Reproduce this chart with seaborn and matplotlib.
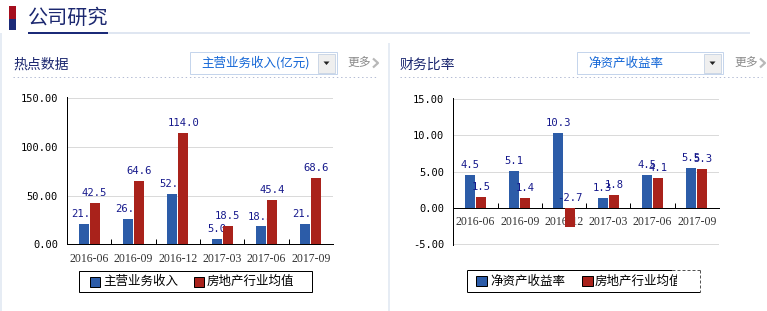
import matplotlib
matplotlib.use("Agg")
import matplotlib.pyplot as plt
import seaborn as sns
import pandas as pd
from matplotlib.patches import Rectangle, Polygon
from matplotlib.lines import Line2D

# ---------------- data ----------------
periods = ['2016-06', '2016-09', '2016-12', '2017-03', '2017-06', '2017-09']
revenue_company = [21.1, 26.2, 52.1, 5.0, 18.3, 21.2]
revenue_industry = [42.5, 64.6, 114.0, 18.5, 45.4, 68.6]
roe_company = [4.5, 5.1, 10.3, 1.3, 4.5, 5.5]
roe_industry = [1.5, 1.4, -2.7, 1.8, 4.1, 5.3]
left_series = ['主营业务收入', '房地产行业均值']
right_series = ['净资产收益率', '房地产行业均值']
left_yticks = [0, 50, 100, 150]
right_yticks = [-5, 0, 5, 10, 15]
page_title = '公司研究'
left_title = '热点数据'
right_title = '财务比率'
left_select = '主营业务收入(亿元)'
right_select = '净资产收益率'
more_text = '更多'

# ---------------- style ----------------
sns.set_theme(style='white')
plt.rcParams['font.family'] = ['Noto Sans CJK SC', 'DejaVu Sans']
plt.rcParams['axes.unicode_minus'] = False

BLUE = '#2c5ca8'
RED = '#a9221b'
LABEL = '#16198c'
NAVY = '#1c2870'
LIGHT = '#dfe6f1'
PX = 72 / 100.0  # points per pixel

W, H = 767, 311
fig = plt.figure(figsize=(W / 100, H / 100), dpi=100)
fig.patch.set_facecolor('white')


def ax_at(x0, x1, ytop, ybot):
    return fig.add_axes([x0 / W, 1 - ybot / H, (x1 - x0) / W, (ybot - ytop) / H], zorder=2)


# overlay for page decorations (pixel coordinates)
ov = fig.add_axes([0, 0, 1, 1], zorder=0)
ov.set_xlim(0, W)
ov.set_ylim(H, 0)
ov.axis('off')


def rect(x0, y0, x1, y1, fc, ec='none', lw=0, z=1, ls='-'):
    ov.add_patch(Rectangle((x0, y0), x1 - x0, y1 - y0, facecolor=fc, edgecolor=ec,
                           linewidth=lw, zorder=z, linestyle=ls))


def line(xs, ys, color, lw=1, ls='-', z=1):
    ov.add_line(Line2D(xs, ys, color=color, linewidth=lw * PX, linestyle=ls, zorder=z,
                       solid_capstyle='butt'))


# page header
rect(9, 6, 15.5, 18.5, '#a50e1e')
rect(9, 18.5, 15.5, 29.5, '#1b2a78')
ov.text(27.5, 18, page_title, fontsize=14.5, color=NAVY, va='center', ha='left')
rect(108, 32, 750, 33.8, LIGHT)
rect(28, 32, 108, 33.8, '#1b2a78')
line([1, 1], [33, 311], LIGHT, lw=1.5)
line([389.3, 389.3], [43, 311], LIGHT, lw=1.5)


def panel_header(tx, title, dot_x1, box_x0, box_x1, box_text, more_x):
    ov.text(tx, 65, title, fontsize=10, color=NAVY, va='center', ha='left')
    line([tx, dot_x1], [77.3, 77.3], '#b4bcd4', lw=1, ls=(0, (1.4, 2.8)))
    rect(box_x0, 51.5, box_x1, 74, 'white', ec='#c5d5ec', lw=1 * PX)
    ov.text(box_x0 + 11, 63, box_text, fontsize=9, color='#1366d6', va='center', ha='left')
    bx0 = box_x1 - 19
    rect(bx0, 53.5, box_x1 - 2, 72.5, '#efefef', ec='#ccd7e6', lw=1 * PX)
    cx = (bx0 + box_x1 - 2) / 2
    ov.add_patch(Polygon([[cx - 3, 61.5], [cx + 3, 61.5], [cx, 65]], closed=True,
                         facecolor='#222222', edgecolor='none', zorder=2))
    ov.text(more_x, 63.5, more_text, fontsize=8.5, color='#8a8a8a', va='center', ha='left')
    line([more_x + 26, more_x + 31, more_x + 26], [58.5, 63, 67.5], '#b8b8b8', lw=2.2, z=2)


panel_header(13.3, left_title, 377, 190, 337, left_select, 347)
panel_header(400, right_title, 762, 577, 723, right_select, 734)


def draw_chart(ax, names, comp, ind, ylim, yticks):
    df = pd.DataFrame({
        'period': periods * 2,
        'series': [names[0]] * len(periods) + [names[1]] * len(periods),
        'value': list(comp) + list(ind),
    })
    sns.barplot(data=df, x='period', y='value', hue='series', order=periods,
                hue_order=list(dict.fromkeys(names)), palette=[BLUE, RED], saturation=1,
                width=0.5, gap=0.1, linewidth=0, errorbar=None, legend=False, ax=ax)
    zb = [2, 4]
    zl = [3, 5]
    for ci, (cont, vals) in enumerate(zip(ax.containers, [comp, ind])):
        for p, v in zip(cont.patches, vals):
            p.set_zorder(zb[ci])
            xc = p.get_x() + p.get_width() / 2
            ax.annotate(f'{v:.1f}', (xc, max(v, 0)), xytext=(0, 5), textcoords='offset points',
                        ha='center', va='baseline', fontsize=7.6, family='DejaVu Sans Mono',
                        color=LABEL, zorder=zl[ci], annotation_clip=False)
    for s in ['top', 'right']:
        ax.spines[s].set_visible(False)
    for s in ['left', 'bottom']:
        ax.spines[s].set_color('black')
        ax.spines[s].set_linewidth(1 * PX)
    # move the x axis to zero first (this resets tick objects)
    ax.spines['bottom'].set_position(('data', 0))
    ax.spines['bottom'].set_zorder(3.5)

    ax.set_xlim(-0.5, len(periods) - 0.5)
    ax.set_ylim(*ylim)
    ax.set_yticks(yticks)
    ax.set_yticklabels([f'{t:.2f}' for t in yticks], family='DejaVu Sans Mono', fontsize=7.5,
                       color='black')
    ax.tick_params(axis='y', length=0, pad=6.5)
    ax.set_xticks(range(len(periods)))
    ax.set_xticklabels(periods, family='Liberation Serif', fontsize=8.5, color='#333333')
    ax.tick_params(axis='x', which='major', length=0, pad=6)
    ax.set_xticks([i + 0.5 for i in range(len(periods) - 1)], minor=True)
    ax.tick_params(axis='x', which='minor', direction='in', length=5 * PX, width=1 * PX,
                   color='black', bottom=True)
    ax.set_axisbelow(True)
    ax.yaxis.grid(True, color='#dadada', linewidth=1 * PX)
    ax.xaxis.grid(False)
    ax.set_xlabel('')
    ax.set_ylabel('')
    ax.patch.set_alpha(0)


# left chart: 0 at y=244.3, 150 at y=98.3 -> ylim top 151
axL = ax_at(67, 333, 97.3, 244.3)
draw_chart(axL, left_series, revenue_company, revenue_industry, (0, 151), left_yticks)

# right chart: 15 at y=99, -5 at y=244
axR = ax_at(453.3, 719, 98.3, 244.7)
draw_chart(axR, right_series, roe_company, roe_industry, (-5.1, 15.1), right_yticks)


# legends
def legend_box(sq1, tx1, sq2, tx2, y0, y1, names):
    yc = (y0 + y1) / 2
    rect(sq1, yc - 5, sq1 + 10.5, yc + 5, BLUE, ec='black', lw=1 * PX, z=3)
    ov.text(tx1, yc, names[0], fontsize=9, color='black', va='center', ha='left', zorder=3)
    rect(sq2, yc - 5, sq2 + 10.5, yc + 5, RED, ec='black', lw=1 * PX, z=3)
    ov.text(tx2, yc, names[1], fontsize=9, color='black', va='center', ha='left', zorder=3)


rect(79, 271, 312, 292, 'white', ec='black', lw=1 * PX, z=2)
legend_box(89.5, 103, 193.5, 207, 271, 292, left_series)

# right legend (clipped on the right, as in the page)
line([467, 467], [270, 292], 'black', lw=1, z=5)
line([467, 672], [270, 270], 'black', lw=1, z=5)
line([467, 700], [292, 292], 'black', lw=1, z=5)
rect(468, 271, 699, 291, 'white', z=2)
legend_box(476, 490, 582, 595, 270, 292, right_series)
rect(677, 270.6, 699.5, 291.4, 'white', z=4)
line([672, 700], [270, 270], '#555555', lw=1, ls=(0, (3, 2)), z=5)
line([700, 700], [270, 292], '#555555', lw=1, ls=(0, (3, 2)), z=5)

fig.savefig('out.png', dpi=100, facecolor='white')
